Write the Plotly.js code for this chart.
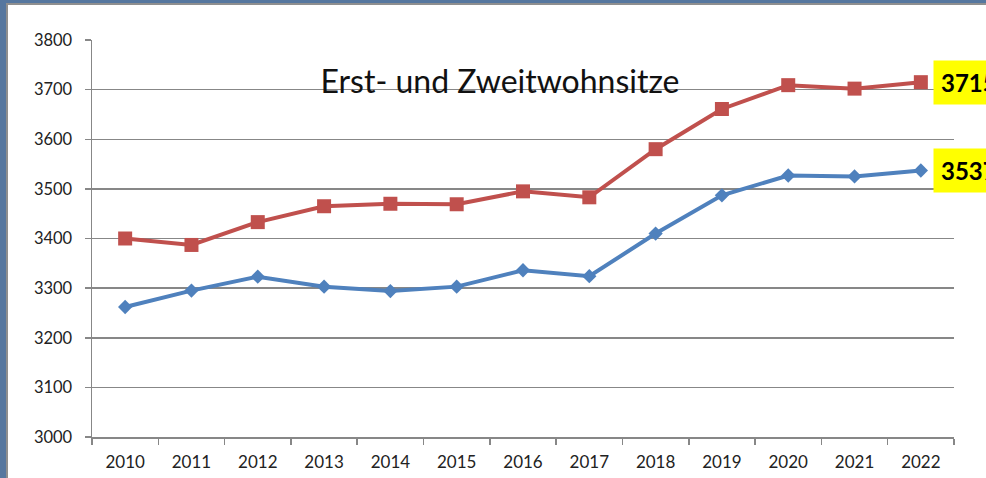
<!DOCTYPE html>
<html>
<head>
<meta charset="utf-8">
<script src="https://cdn.plot.ly/plotly-3.0.1.min.js"></script>
<style>
  html, body { margin: 0; padding: 0; width: 986px; height: 478px; overflow: hidden; background: #56779f; }
  #frame { position: absolute; left: 6px; top: 3px; width: 980px; height: 475px; background: #8f8f8f; }
  #chart { position: absolute; left: 8px; top: 5px; width: 978px; height: 473px; background: #fff; }
</style>
</head>
<body>
<div id="frame"></div>
<div id="chart"></div>
<script>
const years = ["2010","2011","2012","2013","2014","2015","2016","2017","2018","2019","2020","2021","2022"];
const erstUndZweit = [3400, 3387, 3433, 3465, 3470, 3469, 3495, 3483, 3580, 3661, 3709, 3702, 3715];
const erstwohnsitz = [3262, 3295, 3323, 3303, 3294, 3303, 3336, 3324, 3410, 3487, 3527, 3525, 3537];
const yTicks = [3000, 3100, 3200, 3300, 3400, 3500, 3600, 3700, 3800];
const chartTitle = "Erst- und Zweitwohnsitze";

const gridCol = "#878787";
const blue = "#4F81BD";
const red = "#C0504D";

const traces = [
  {
    x: years, y: erstwohnsitz, type: "scatter", mode: "lines+markers",
    line: { color: blue, width: 4 },
    marker: { symbol: "diamond", size: 11, color: blue },
    hoverinfo: "x+y"
  },
  {
    x: years, y: erstUndZweit, type: "scatter", mode: "lines+markers",
    line: { color: red, width: 4 },
    marker: { symbol: "square", size: 14, color: red },
    hoverinfo: "x+y"
  }
];

const lastIdx = years.length - 1;
const labelAnn = (val) => ({
  x: lastIdx, y: val, xref: "x", yref: "y",
  text: "<b>" + val + "</b>", showarrow: false,
  xanchor: "left", yanchor: "middle", xshift: 12,
  bgcolor: "#FFFF00", borderpad: 7,
  font: { family: "Lato, 'Open Sans', sans-serif", size: 24, color: "#000" }
});

const layout = {
  width: 978, height: 473,
  paper_bgcolor: "#fff", plot_bgcolor: "#fff",
  margin: { l: 84, r: 32, t: 35, b: 41 },
  showlegend: false,
  title: {
    text: chartTitle,
    font: { family: "Lato, 'Open Sans', sans-serif", size: 32, color: "#111" },
    xref: "container", yref: "container", x: (500 - 8) / 978, y: 1 - (82 - 5) / 473,
    xanchor: "center", yanchor: "middle"
  },
  xaxis: {
    type: "category", tickson: "boundaries", ticks: "outside", ticklen: 6,
    tickcolor: gridCol, tickwidth: 1.5,
    showline: true, linecolor: gridCol, linewidth: 1.5,
    showgrid: false, zeroline: false,
    tickfont: { family: "Lato, 'Open Sans', sans-serif", size: 17, color: "#222" },
    ticklabelstandoff: 9,
    range: [-0.5, lastIdx + 0.5]
  },
  yaxis: {
    range: [3000, 3800], tickvals: yTicks, ticks: "outside", ticklen: 6,
    tickcolor: gridCol, tickwidth: 1.5,
    showline: true, linecolor: gridCol, linewidth: 1.5,
    showgrid: true, gridcolor: gridCol, gridwidth: 1.5, zeroline: false,
    tickfont: { family: "Lato, 'Open Sans', sans-serif", size: 16.5, color: "#222" },
    ticklabelstandoff: 9
  },
  annotations: [labelAnn(erstUndZweit[lastIdx]), labelAnn(erstwohnsitz[lastIdx])]
};

Plotly.newPlot("chart", traces, layout, { displayModeBar: false, staticPlot: true });
</script>
</body>
</html>
